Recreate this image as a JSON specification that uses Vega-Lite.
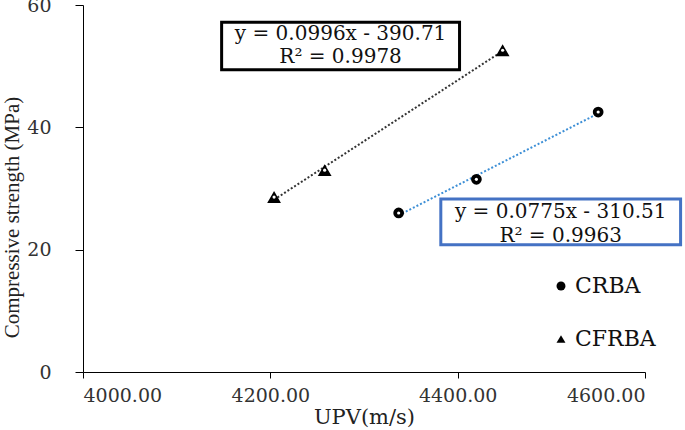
{
  "$schema": "https://vega.github.io/schema/vega-lite/v6.json",
  "width": 562,
  "height": 367,
  "autosize": {"type": "none"},
  "padding": {"left": 83, "top": 5, "right": 40, "bottom": 58},
  "background": "white",
  "config": {
    "view": {"stroke": null}
  },
  "data": {
    "values": [
      {"Mix": "CRBA", "UPV": 4337, "strength": 26.0},
      {"Mix": "CRBA", "UPV": 4420, "strength": 31.5},
      {"Mix": "CRBA", "UPV": 4550, "strength": 42.5},
      {"Mix": "CFRBA", "UPV": 4204, "strength": 28.6},
      {"Mix": "CFRBA", "UPV": 4258, "strength": 33.0},
      {"Mix": "CFRBA", "UPV": 4448, "strength": 52.6}
    ]
  },
  "layer": [
    {
      "transform": [{"filter": "datum.Mix === 'CFRBA'"}, {"regression": "strength", "on": "UPV"}],
      "mark": {"type": "line", "strokeDash": [2, 2], "strokeWidth": 2, "color": "#333333"},
      "encoding": {
        "x": {"field": "UPV", "type": "quantitative", "scale": {"domain": [4000, 4600]},
          "axis": {"values": [4000, 4200, 4400, 4600], "format": ".2f", "title": "UPV(m/s)", "titlePadding": 1,
            "grid": false, "domainColor": "#000", "tickColor": "#000", "tickSize": 6, "labelColor": "#333", "titleColor": "#222",
            "labelFont": "DejaVu Serif", "titleFont": "DejaVu Serif", "labelFontSize": 19, "titleFontSize": 21, "titleFontWeight": "normal", "labelPadding": 8}},
        "y": {"field": "strength", "type": "quantitative", "scale": {"domain": [0, 60]},
          "axis": {"values": [0, 20, 40, 60], "title": "Compressive strength (MPa)",
            "titleX": -71, "titleY": 212, "titleAngle": 270, "titleBaseline": "middle", "titleAlign": "center",
            "grid": false, "domainColor": "#000", "tickColor": "#000", "tickSize": 8, "labelColor": "#333", "titleColor": "#222",
            "labelFont": "DejaVu Serif", "titleFont": "Liberation Serif", "labelFontSize": 19, "titleFontSize": 21, "titleFontWeight": "normal", "labelPadding": 24}}
      }
    },
    {
      "transform": [{"filter": "datum.Mix === 'CRBA'"}, {"regression": "strength", "on": "UPV"}],
      "mark": {"type": "line", "strokeDash": [2, 2], "strokeWidth": 2, "color": "#3d8fd6"},
      "encoding": {
        "x": {"field": "UPV", "type": "quantitative"},
        "y": {"field": "strength", "type": "quantitative"}
      }
    },
    {
      "mark": {"type": "point", "filled": true, "color": "#000", "opacity": 1, "size": 115},
      "encoding": {
        "x": {"field": "UPV", "type": "quantitative"},
        "y": {"field": "strength", "type": "quantitative"},
        "shape": {"field": "Mix", "type": "nominal",
          "scale": {"domain": ["CRBA", "CFRBA"], "range": ["circle", "triangle-up"]},
          "legend": {"title": null, "orient": "none", "legendX": 467, "legendY": 270,
            "labelFont": "DejaVu Serif", "labelFontSize": 22, "labelColor": "#111",
            "symbolFillColor": "#000", "symbolStrokeColor": "#000", "symbolOpacity": 1, "symbolSize": 80,
            "rowPadding": 31, "labelOffset": 3}}
      }
    },
    {
      "transform": [{"filter": "datum.Mix === 'CFRBA'"}],
      "mark": {"type": "point", "shape": "triangle-up", "filled": true, "color": "#000", "opacity": 1, "size": 190},
      "encoding": {
        "x": {"field": "UPV", "type": "quantitative"},
        "y": {"field": "strength", "type": "quantitative"}
      }
    },
    {
      "mark": {"type": "circle", "color": "#fff", "opacity": 1, "size": 10},
      "encoding": {
        "x": {"field": "UPV", "type": "quantitative"},
        "y": {"field": "strength", "type": "quantitative"}
      }
    },
    {
      "data": {"values": [{}]},
      "mark": {"type": "rect", "fill": "#fff", "stroke": "#000", "strokeWidth": 3},
      "encoding": {
        "x": {"datum": 4148}, "x2": {"datum": 4402},
        "y": {"datum": 57.2}, "y2": {"datum": 49.4}
      }
    },
    {
      "data": {"values": [{}]},
      "mark": {"type": "rect", "fill": "#fff", "stroke": "#4472c4", "strokeWidth": 3, "clip": false},
      "encoding": {
        "x": {"datum": 4382}, "x2": {"datum": 4638},
        "y": {"datum": 28.3}, "y2": {"datum": 20.8}
      }
    },
    {
      "data": {"values": [{}]},
      "mark": {"type": "text", "text": "y = 0.0996x - 390.71", "fontSize": 20, "font": "DejaVu Serif", "color": "#111"},
      "encoding": {"x": {"datum": 4275}, "y": {"datum": 55.2}}
    },
    {
      "data": {"values": [{}]},
      "mark": {"type": "text", "text": "R² = 0.9978", "fontSize": 20, "font": "DejaVu Serif", "color": "#111"},
      "encoding": {"x": {"datum": 4275}, "y": {"datum": 51.5}}
    },
    {
      "data": {"values": [{}]},
      "mark": {"type": "text", "text": "y = 0.0775x - 310.51", "fontSize": 20, "font": "DejaVu Serif", "color": "#111"},
      "encoding": {"x": {"datum": 4510}, "y": {"datum": 26.1}}
    },
    {
      "data": {"values": [{}]},
      "mark": {"type": "text", "text": "R² = 0.9963", "fontSize": 20, "font": "DejaVu Serif", "color": "#111"},
      "encoding": {"x": {"datum": 4510}, "y": {"datum": 22.3}}
    }
  ]
}
